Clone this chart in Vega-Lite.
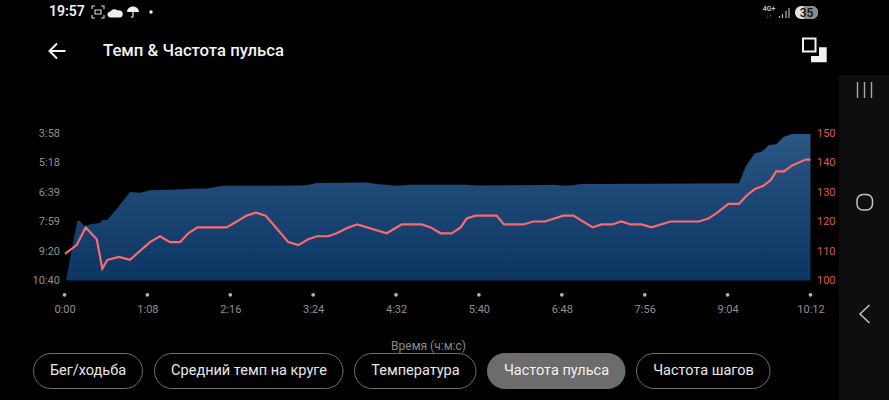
{
  "$schema": "https://vega.github.io/schema/vega-lite/v6.json",
  "description": "Pace and heart rate over a run, with the phone screen around it.",
  "background": "#000000",
  "width": 746,
  "height": 147.5,
  "autosize": "none",
  "padding": {"left": 64.5, "top": 133, "right": 78.5, "bottom": 119.5},
  "config": {"view": {"stroke": null}, "font": "Roboto"},
  "datasets": {
    "pace": [
      {"t": 1.2, "pace": 640}, {"t": 10.5, "pace": 477}, {"t": 12.7, "pace": 478}, {"t": 16.8, "pace": 493},
      {"t": 22.3, "pace": 486}, {"t": 29.1, "pace": 483}, {"t": 31, "pace": 475}, {"t": 35.1, "pace": 475},
      {"t": 44.1, "pace": 440}, {"t": 53.7, "pace": 399}, {"t": 61.9, "pace": 401}, {"t": 70.1, "pace": 394},
      {"t": 83.8, "pace": 393}, {"t": 97.5, "pace": 391}, {"t": 101.6, "pace": 390}, {"t": 116.7, "pace": 389},
      {"t": 130, "pace": 382}, {"t": 165.9, "pace": 382}, {"t": 193.2, "pace": 381}, {"t": 199.8, "pace": 380},
      {"t": 206.9, "pace": 374}, {"t": 247.9, "pace": 373}, {"t": 257.4, "pace": 378}, {"t": 264.3, "pace": 379},
      {"t": 269.7, "pace": 381}, {"t": 276.6, "pace": 381}, {"t": 283.4, "pace": 379}, {"t": 329.9, "pace": 379},
      {"t": 338.1, "pace": 381}, {"t": 395.6, "pace": 380}, {"t": 400.7, "pace": 379}, {"t": 408.9, "pace": 381},
      {"t": 414.7, "pace": 381}, {"t": 424.3, "pace": 377}, {"t": 439.3, "pace": 377}, {"t": 553.3, "pace": 375},
      {"t": 558.8, "pace": 330}, {"t": 562.1, "pace": 313}, {"t": 566.4, "pace": 293}, {"t": 571.1, "pace": 290},
      {"t": 573.8, "pace": 284}, {"t": 577.9, "pace": 271}, {"t": 583.9, "pace": 269}, {"t": 590.2, "pace": 248},
      {"t": 597, "pace": 241}, {"t": 612, "pace": 241}
    ],
    "pulse": [
      {"t": 0.4, "bpm": 109}, {"t": 10, "bpm": 112}, {"t": 17.4, "bpm": 118}, {"t": 26.4, "bpm": 114},
      {"t": 28.3, "bpm": 110}, {"t": 31, "bpm": 104}, {"t": 35.1, "bpm": 107}, {"t": 44.7, "bpm": 108},
      {"t": 53.7, "bpm": 107}, {"t": 70.1, "bpm": 113}, {"t": 78.3, "bpm": 115}, {"t": 86.5, "bpm": 113},
      {"t": 94.7, "bpm": 113}, {"t": 101.6, "bpm": 116}, {"t": 109, "bpm": 118}, {"t": 133, "bpm": 118},
      {"t": 141.3, "bpm": 120}, {"t": 149.5, "bpm": 122}, {"t": 157.1, "bpm": 123}, {"t": 165, "bpm": 122},
      {"t": 171.3, "bpm": 119}, {"t": 183.6, "bpm": 113}, {"t": 191.8, "bpm": 112}, {"t": 200, "bpm": 114},
      {"t": 207.4, "bpm": 115}, {"t": 216.4, "bpm": 115}, {"t": 223.3, "bpm": 116}, {"t": 232.8, "bpm": 118},
      {"t": 240.2, "bpm": 119}, {"t": 264.3, "bpm": 116}, {"t": 276.6, "bpm": 119}, {"t": 293, "bpm": 119},
      {"t": 300.4, "bpm": 118}, {"t": 308.6, "bpm": 116}, {"t": 317.6, "bpm": 116}, {"t": 325, "bpm": 118},
      {"t": 329.9, "bpm": 121}, {"t": 337.3, "bpm": 122}, {"t": 354.5, "bpm": 122}, {"t": 360.5, "bpm": 119},
      {"t": 376.4, "bpm": 119}, {"t": 384.6, "bpm": 120}, {"t": 394.2, "bpm": 120}, {"t": 409.2, "bpm": 122},
      {"t": 417.4, "bpm": 122}, {"t": 433.3, "bpm": 118}, {"t": 440.7, "bpm": 119}, {"t": 449.4, "bpm": 119},
      {"t": 456.8, "bpm": 120}, {"t": 464.4, "bpm": 119}, {"t": 473.5, "bpm": 119}, {"t": 481.4, "bpm": 118},
      {"t": 497.3, "bpm": 120}, {"t": 520.5, "bpm": 120}, {"t": 528.2, "bpm": 121}, {"t": 535.5, "bpm": 123},
      {"t": 544.6, "bpm": 126}, {"t": 553.3, "bpm": 126}, {"t": 560.1, "bpm": 129}, {"t": 566.4, "bpm": 131},
      {"t": 573, "bpm": 132}, {"t": 579.3, "bpm": 134}, {"t": 583.9, "bpm": 137}, {"t": 590.2, "bpm": 137},
      {"t": 597, "bpm": 139}, {"t": 608, "bpm": 141}, {"t": 612, "bpm": 141}
    ],
    "ticks": [{"t": 0}, {"t": 68}, {"t": 136}, {"t": 204}, {"t": 272}, {"t": 340}, {"t": 408}, {"t": 476}, {"t": 544}, {"t": 612}]
  },
  "resolve": {"scale": {"y": "independent"}, "axis": {"y": "independent"}},
  "layer": [
    {
      "data": {"name": "pace"},
      "mark": {"type": "area", "color": {"gradient": "linear", "x1": 1, "y1": 0, "x2": 1, "y2": 1, "stops": [{"offset": 0, "color": "#2b5785"}, {"offset": 0.35, "color": "#1f4a78"}, {"offset": 1, "color": "#0c3563"}]}},
      "encoding": {
        "x": {
          "field": "t", "type": "quantitative",
          "scale": {"domain": [0, 612], "nice": false},
          "axis": {
            "values": [0, 68, 136, 204, 272, 340, 408, 476, 544, 612],
            "labelExpr": "floor(datum.value/60)+':'+(datum.value%60<10?'0':'')+(datum.value%60)",
            "title": "Время (ч:м:с)", "titleFontSize": 12, "titleFontWeight": 400, "titleColor": "#8a8a8a", "titleX": 363.5, "titleY": 64.5, "titleBaseline": "middle",
            "labelColor": "#8f8f8f", "labelFontSize": 11, "labelPadding": 23, "ticks": false, "domain": false, "grid": false, "labelFlush": false, "labelOverlap": false
          }
        },
        "y": {
          "field": "pace", "type": "quantitative",
          "scale": {"domain": [640, 238], "nice": false, "zero": false},
          "axis": {
            "values": [238, 318, 399, 479, 560, 640],
            "labelExpr": "floor(datum.value/60)+':'+(datum.value%60<10?'0':'')+(datum.value%60)",
            "title": null, "labelColor": "#8f8f8f", "labelFontSize": 11, "labelPadding": 5, "ticks": false, "domain": false, "grid": false, "labelFlush": false, "labelOverlap": false
          }
        },
        "y2": {"datum": 640}
      }
    },
    {
      "data": {"name": "pulse"},
      "mark": {"type": "line", "color": "#fb6a6f", "strokeWidth": 2.2},
      "encoding": {
        "x": {"field": "t", "type": "quantitative"},
        "y": {
          "field": "bpm", "type": "quantitative",
          "scale": {"domain": [100, 150], "nice": false, "zero": false},
          "axis": {"orient": "right", "values": [100, 110, 120, 130, 140, 150], "title": null, "labelColor": "#d9585b", "labelFontSize": 11, "labelPadding": 6, "ticks": false, "domain": false, "grid": false, "labelFlush": false, "labelOverlap": false}
        }
      }
    },
    {
      "data": {"name": "ticks"},
      "mark": {"type": "circle", "color": "#b4b4b4", "size": 14, "opacity": 1, "clip": false},
      "encoding": {
        "x": {"field": "t", "type": "quantitative"},
        "y": {"datum": 679, "type": "quantitative", "scale": {"domain": [640, 238], "nice": false, "zero": false}, "axis": null}
      }
    },
    {
      "data": {"values": [{"part": "nav bar"}]},
      "mark": {"type": "rect", "color": "#0e0e0e"},
      "encoding": {"x": {"value": 774.5}, "x2": {"value": 824.5}, "y": {"value": -58}, "y2": {"value": 267}}
    },
    {
      "data": {"values": [{"label": "Темп & Частота пульса"}]},
      "mark": {"type": "text", "fontSize": 16.7, "fontWeight": 500, "color": "#f2f2f2", "align": "left", "baseline": "middle"},
      "encoding": {"text": {"field": "label"}, "x": {"value": 38.5}, "y": {"value": -82}}
    },
    {
      "data": {"values": [{"part": "button"}]},
      "mark": {"type": "rect", "fill": null, "stroke": "#6e6e6e", "strokeWidth": 1, "cornerRadius": 18},
      "encoding": {"x": {"value": -31}, "x2": {"value": 78}, "y": {"value": 220.5}, "y2": {"value": 255.5}}
    },
    {
      "data": {"values": [{"part": "button"}]},
      "mark": {"type": "rect", "fill": null, "stroke": "#6e6e6e", "strokeWidth": 1, "cornerRadius": 18},
      "encoding": {"x": {"value": 90}, "x2": {"value": 278.5}, "y": {"value": 220.5}, "y2": {"value": 255.5}}
    },
    {
      "data": {"values": [{"part": "button"}]},
      "mark": {"type": "rect", "fill": null, "stroke": "#6e6e6e", "strokeWidth": 1, "cornerRadius": 18},
      "encoding": {"x": {"value": 290}, "x2": {"value": 411.5}, "y": {"value": 220.5}, "y2": {"value": 255.5}}
    },
    {
      "data": {"values": [{"part": "button"}]},
      "mark": {"type": "rect", "fill": "#6c6c6c", "cornerRadius": 18},
      "encoding": {"x": {"value": 422.5}, "x2": {"value": 561}, "y": {"value": 220}, "y2": {"value": 256}}
    },
    {
      "data": {"values": [{"part": "button"}]},
      "mark": {"type": "rect", "fill": null, "stroke": "#6e6e6e", "strokeWidth": 1, "cornerRadius": 18},
      "encoding": {"x": {"value": 572}, "x2": {"value": 705.5}, "y": {"value": 220.5}, "y2": {"value": 255.5}}
    },
    {
      "data": {"values": [{"label": "Бег/ходьба"}]},
      "mark": {"type": "text", "fontSize": 14.5, "color": "#e8e8e8", "baseline": "middle"},
      "encoding": {"text": {"field": "label"}, "x": {"value": 23.5}, "y": {"value": 238}}
    },
    {
      "data": {"values": [{"label": "Средний темп на круге"}]},
      "mark": {"type": "text", "fontSize": 14.5, "color": "#e8e8e8", "baseline": "middle"},
      "encoding": {"text": {"field": "label"}, "x": {"value": 184.5}, "y": {"value": 238}}
    },
    {
      "data": {"values": [{"label": "Температура"}]},
      "mark": {"type": "text", "fontSize": 14.5, "color": "#e8e8e8", "baseline": "middle"},
      "encoding": {"text": {"field": "label"}, "x": {"value": 351}, "y": {"value": 238}}
    },
    {
      "data": {"values": [{"label": "Частота пульса"}]},
      "mark": {"type": "text", "fontSize": 14.5, "color": "#f2f2f2", "baseline": "middle"},
      "encoding": {"text": {"field": "label"}, "x": {"value": 492}, "y": {"value": 238}}
    },
    {
      "data": {"values": [{"label": "Частота шагов"}]},
      "mark": {"type": "text", "fontSize": 14.5, "color": "#e8e8e8", "baseline": "middle"},
      "encoding": {"text": {"field": "label"}, "x": {"value": 639}, "y": {"value": 238}}
    },
    {
      "data": {"values": [{"label": "19:57"}]},
      "mark": {"type": "text", "fontSize": 14, "fontWeight": 600, "color": "#f0f0f0", "align": "left", "baseline": "middle"},
      "encoding": {"text": {"field": "label"}, "x": {"value": -15.5}, "y": {"value": -121}}
    },
    {
      "data": {"values": [{"part": "back arrow"}]},
      "mark": {"type": "point", "shape": "M-8 0H8M-0.5 -7.5L-8 0L-0.5 7.5", "size": 4, "filled": false, "stroke": "#f2f2f2", "strokeWidth": 2, "opacity": 1},
      "encoding": {"x": {"value": -7}, "y": {"value": -82}}
    },
    {
      "data": {"values": [{"part": "screenshot icon"}]},
      "mark": {"type": "point", "shape": "M-6 -3V-6H-3M3 -6H6V-3M6 3V6H3M-3 6H-6V3M-3 -2H3V2H-3Z", "size": 4, "filled": false, "stroke": "#dddddd", "strokeWidth": 1.1, "opacity": 1},
      "encoding": {"x": {"value": 33.5}, "y": {"value": -121}}
    },
    {
      "data": {"values": [{"part": "cloud icon"}]},
      "mark": {"type": "point", "shape": "M-5 5A3 3 0 0 1 -5 -1A4.5 4.5 0 0 1 2 -2A3.5 3.5 0 0 1 5 5Z", "size": 4, "filled": true, "fill": "#eeeeee", "strokeWidth": 0, "opacity": 1},
      "encoding": {"x": {"value": 51}, "y": {"value": -120.5}}
    },
    {
      "data": {"values": [{"part": "umbrella icon"}]},
      "mark": {"type": "point", "shape": "M-6 0A6 5.5 0 0 1 6 0ZM-0.6 0H0.6V4.5A1.8 1.8 0 0 1 -2.5 5L-1.6 4.5A0.7 0.7 0 0 0 -0.6 4.2Z", "size": 4, "filled": true, "fill": "#eeeeee", "strokeWidth": 0, "opacity": 1},
      "encoding": {"x": {"value": 68.5}, "y": {"value": -121}}
    },
    {
      "data": {"values": [{"part": "status dot"}]},
      "mark": {"type": "circle", "size": 12, "color": "#eeeeee", "opacity": 1},
      "encoding": {"x": {"value": 86.5}, "y": {"value": -121}}
    },
    {
      "data": {"values": [{"label": "4G+"}]},
      "mark": {"type": "text", "fontSize": 7, "fontWeight": 600, "color": "#c8c8c8", "baseline": "middle"},
      "encoding": {"text": {"field": "label"}, "x": {"value": 704.5}, "y": {"value": -124}}
    },
    {
      "data": {"values": [{"label": "↓↑"}]},
      "mark": {"type": "text", "fontSize": 6, "color": "#999999", "baseline": "middle"},
      "encoding": {"text": {"field": "label"}, "x": {"value": 704.5}, "y": {"value": -117.5}}
    },
    {
      "data": {"values": [{"part": "signal icon"}]},
      "mark": {"type": "point", "shape": "M-5 5V3M-2 5V1M1.5 5V-2M4.5 5V-5", "size": 4, "filled": false, "stroke": "#b5b5b5", "strokeWidth": 1.2, "opacity": 1},
      "encoding": {"x": {"value": 720}, "y": {"value": -120}}
    },
    {
      "data": {"values": [{"part": "battery"}]},
      "mark": {"type": "rect", "color": "#e2e2e2", "cornerRadius": 6.5},
      "encoding": {"x": {"value": 730.5}, "x2": {"value": 753.5}, "y": {"value": -127}, "y2": {"value": -114}}
    },
    {
      "data": {"values": [{"part": "battery"}]},
      "mark": {"type": "rect", "color": "#8a8a8a", "cornerRadiusTopRight": 6.5, "cornerRadiusBottomRight": 6.5},
      "encoding": {"x": {"value": 739}, "x2": {"value": 753.5}, "y": {"value": -127}, "y2": {"value": -114}}
    },
    {
      "data": {"values": [{"label": "35"}]},
      "mark": {"type": "text", "fontSize": 12, "fontWeight": 500, "color": "#111111", "baseline": "middle"},
      "encoding": {"text": {"field": "label"}, "x": {"value": 742}, "y": {"value": -120.5}}
    },
    {
      "data": {"values": [{"part": "expand icon"}]},
      "mark": {"type": "rect", "fill": null, "stroke": "#f2f2f2", "strokeWidth": 2},
      "encoding": {"x": {"value": 738.5}, "x2": {"value": 751}, "y": {"value": -94.5}, "y2": {"value": -81.5}}
    },
    {
      "data": {"values": [{"part": "expand icon"}]},
      "mark": {"type": "point", "shape": "M5 -2.7H12.7V12.3H-3V6H5Z", "size": 4, "filled": true, "fill": "#f2f2f2", "strokeWidth": 0, "opacity": 1},
      "encoding": {"x": {"value": 749.5}, "y": {"value": -83}}
    },
    {
      "data": {"values": [{"part": "nav recents"}]},
      "mark": {"type": "point", "shape": "M-7 -8V8M0 -8V8M7 -8V8", "size": 4, "filled": false, "stroke": "#a8a8a8", "strokeWidth": 1.4, "opacity": 1},
      "encoding": {"x": {"value": 800}, "y": {"value": -43}}
    },
    {
      "data": {"values": [{"part": "nav home"}]},
      "mark": {"type": "rect", "fill": null, "stroke": "#c4c4c4", "strokeWidth": 1.5, "cornerRadius": 6},
      "encoding": {"x": {"value": 792.5}, "x2": {"value": 808}, "y": {"value": 61.5}, "y2": {"value": 77}}
    },
    {
      "data": {"values": [{"part": "nav back"}]},
      "mark": {"type": "point", "shape": "M4.5 -9L-5 0L4.5 9", "size": 4, "filled": false, "stroke": "#c4c4c4", "strokeWidth": 1.5, "opacity": 1},
      "encoding": {"x": {"value": 800.5}, "y": {"value": 181}}
    }
  ]
}
